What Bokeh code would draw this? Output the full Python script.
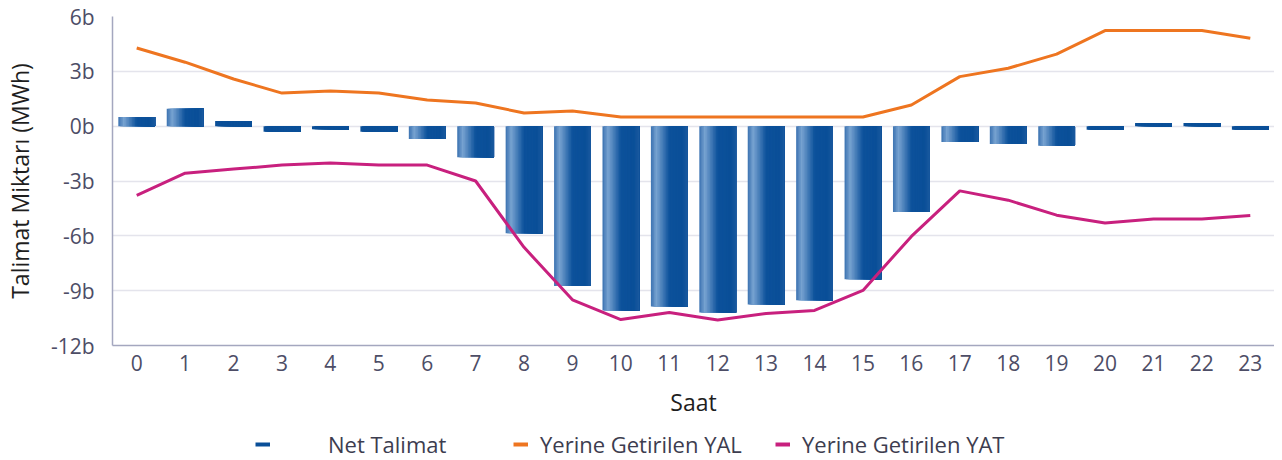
import numpy as np
from bokeh.plotting import figure
from bokeh.layouts import column
from bokeh.models import (ColumnDataSource, Range1d, FixedTicker,
                          CustomJSTickFormatter, Legend, LegendItem)
from bokeh.embed import file_html
from bokeh.resources import INLINE

# ---- data ----
hours = list(range(24))
net_talimat = [0.50, 0.95, 0.28, -0.31, -0.17, -0.30, -0.70, -1.70, -5.86, -8.75,
               -10.08, -9.86, -10.19, -9.75, -9.53, -8.38, -4.69, -0.86, -0.98, -1.07,
               -0.20, 0.17, 0.17, -0.20]
yal = [4.28, 3.50, 2.58, 1.81, 1.92, 1.81, 1.43, 1.27, 0.72, 0.83,
       0.50, 0.50, 0.50, 0.50, 0.50, 0.50, 1.16, 2.71, 3.17, 3.94,
       5.23, 5.23, 5.23, 4.81]
yat = [-3.79, -2.57, -2.35, -2.13, -2.02, -2.13, -2.13, -3.00, -6.63, -9.50,
       -10.58, -10.20, -10.60, -10.25, -10.08, -8.99, -6.03, -3.54, -4.05, -4.87,
       -5.30, -5.08, -5.08, -4.89]
y_ticks = [-12, -9, -6, -3, 0, 3, 6]
series_names = ["Net Talimat", "Yerine Getirilen YAL", "Yerine Getirilen YAT"]
x_title = "Saat"
y_title = "Talimat Miktarı (MWh)"

# ---- style ----
BLUE = "#0a4f98"
ORANGE = "#ee7520"
MAGENTA = "#c8207e"
TICK_COLOR = "#4d4d66"
AXIS_COLOR = "#a4a7bf"
GRID_COLOR = "#e4e4ec"
FONT = "Open Sans"
BAR_W = 0.76
N_STRIPS = 24
GRAD_STOPS = [(0.0, (0x3a, 0x72, 0xb0)), (0.15, (0x78, 0xa3, 0xd1)),
              (0.5, (0x0c, 0x51, 0x9b)), (0.85, (0x0a, 0x4f, 0x98)),
              (1.0, (0x1a, 0x59, 0x9f))]


def grad_color(t):
    for (t0, c0), (t1, c1) in zip(GRAD_STOPS[:-1], GRAD_STOPS[1:]):
        if t0 <= t <= t1:
            f = (t - t0) / (t1 - t0)
            c = [int(round(a + (b - a) * f)) for a, b in zip(c0, c1)]
            return "#%02x%02x%02x" % tuple(c)
    return BLUE


p = figure(frame_width=1162, frame_height=329,
           x_range=Range1d(-0.5, 23.5), y_range=Range1d(-12, 6),
           output_backend="svg", toolbar_location=None,
           min_border_left=104, min_border_top=16, min_border_right=0,
           min_border_bottom=0)
p.outline_line_color = None
p.background_fill_color = "white"

# bars: overlapping rectangles (each from its strip start to the bar's right
# edge) emulate the horizontal gradient without seams
xs, widths, tops, bottoms, colors = [], [], [], [], []
for h, v in zip(hours, net_talimat):
    right = h + BAR_W / 2
    for i in range(N_STRIPS):
        t = (i + 0.5) / N_STRIPS
        left = h - BAR_W / 2 + i * BAR_W / N_STRIPS
        xs.append((left + right) / 2)
        widths.append(right - left)
        tops.append(max(v, 0))
        bottoms.append(min(v, 0))
        colors.append(grad_color(t) if abs(v) > 0.35 else BLUE)
bar_src = ColumnDataSource(dict(x=xs, w=widths, top=tops, bottom=bottoms, color=colors))
p.vbar(x="x", width="w", top="top", bottom="bottom",
       fill_color="color", line_color=None, source=bar_src)

p.line(hours, yal, line_color=ORANGE, line_width=3)
p.line(hours, yat, line_color=MAGENTA, line_width=3)

# axes
p.xaxis.ticker = FixedTicker(ticks=hours)
p.yaxis.ticker = FixedTicker(ticks=y_ticks)
p.yaxis.formatter = CustomJSTickFormatter(code="return tick + 'b';")
for ax in (p.xaxis[0], p.yaxis[0]):
    ax.major_tick_line_color = None
    ax.minor_tick_line_color = None
    ax.axis_line_color = AXIS_COLOR
    ax.axis_line_width = 1.5
    ax.major_label_text_font = FONT
    ax.major_label_text_font_size = "21px"
    ax.major_label_text_color = TICK_COLOR
    ax.axis_label_text_font = FONT
    ax.axis_label_text_font_size = "23px"
    ax.axis_label_text_font_style = "normal"
    ax.axis_label_text_color = "#1e1e1e"
p.xaxis.axis_label = x_title
p.yaxis.axis_label = y_title
p.xaxis.major_label_standoff = 3
p.xaxis.axis_label_standoff = 12
p.yaxis.major_label_standoff = 12
p.yaxis.axis_label_standoff = 12

p.xgrid.grid_line_color = None
p.ygrid.grid_line_color = GRID_COLOR
p.ygrid.grid_line_width = 1.5

# ---- legend strip (separate small figure below the chart) ----
pl = figure(width=1266, height=41, x_range=Range1d(0, 1), y_range=Range1d(0, 1),
            output_backend="svg", toolbar_location=None,
            x_axis_location=None, y_axis_location=None,
            min_border=0)
pl.outline_line_color = None
pl.grid.visible = False
nan_pts = dict(x=[0, 1], y=[np.nan, np.nan])
l_net = pl.line(x="x", y="y", source=ColumnDataSource(nan_pts), line_color=BLUE, line_width=4)
l_yal = pl.line(x="x", y="y", source=ColumnDataSource(nan_pts), line_color=ORANGE, line_width=4)
l_yat = pl.line(x="x", y="y", source=ColumnDataSource(nan_pts), line_color=MAGENTA, line_width=4)

legend_style = dict(orientation="horizontal", padding=0, margin=0,
                    border_line_color=None, background_fill_alpha=0,
                    glyph_width=15, glyph_height=30,
                    label_text_font=FONT, label_text_font_size="22px",
                    label_text_color="#3d3d4f")
legend_a = Legend(items=[LegendItem(label=series_names[0], renderers=[l_net])],
                  location=(143, 2), label_standoff=58, **legend_style)
legend_b = Legend(items=[LegendItem(label=series_names[1], renderers=[l_yal]),
                         LegendItem(label=series_names[2], renderers=[l_yat])],
                  location=(401, 2), label_standoff=12, label_width=205,
                  spacing=30, **legend_style)
pl.add_layout(legend_a, "center")
pl.add_layout(legend_b, "center")

layout = column(p, pl, spacing=0)
open("out.html", "w").write(file_html(layout, INLINE))
